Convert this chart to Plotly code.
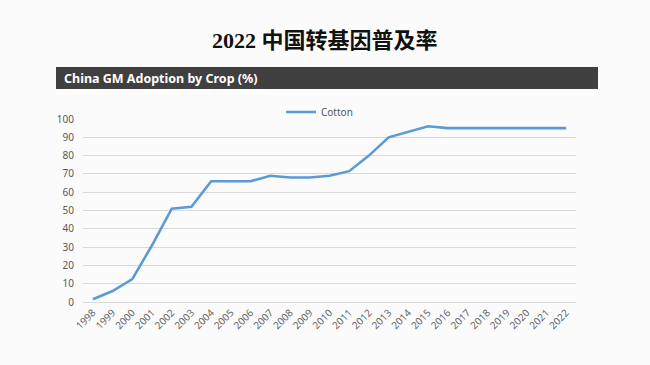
import plotly.graph_objects as go

years = [str(y) for y in range(1998, 2023)]
cotton = [1.5, 6, 12.5, 31, 51, 52, 66, 66, 66, 69, 68, 68, 69, 71.5, 80, 90, 93, 96, 95, 95, 95, 95, 95, 95, 95]
y_ticks = list(range(0, 101, 10))

W, H = 650, 365
L, R, T, B = 83, 576, 119, 302  # plot area in pixels


def px(x):
    return (x - L) / (R - L)


def py(y):
    return (B - y) / (B - T)


fig = go.Figure()
fig.add_trace(go.Scatter(
    x=years, y=cotton, mode="lines", name="Cotton",
    line=dict(color="#5b9bd5", width=2.6),
))

fig.update_layout(
    width=W, height=H,
    margin=dict(l=L, r=W - R, t=T, b=H - B, pad=0),
    paper_bgcolor="#fbfbfb", plot_bgcolor="#fbfbfb",
    font=dict(family="Noto Sans, Open Sans, sans-serif", color="#595959", size=10),
    showlegend=True,
    legend=dict(orientation="h", x=px(281), y=py(112), xanchor="left", yanchor="middle",
                font=dict(size=10, color="#595959"), bgcolor="rgba(0,0,0,0)",
                itemwidth=30),
    xaxis=dict(type="category", range=[-0.5, len(years) - 0.5], tickangle=-45,
               showgrid=False, showline=True, linecolor="#d9d9d9", ticks="",
               tickfont=dict(size=10, color="#666666"), fixedrange=True),
    yaxis=dict(range=[0, 100], tickvals=y_ticks, showgrid=True, gridcolor="#d9d9d9",
               gridwidth=1, zeroline=False, ticks="", ticklabelstandoff=8,
               tickfont=dict(size=10, color="#595959"), fixedrange=True),
    shapes=[dict(type="rect", xref="paper", yref="paper",
                 x0=px(56), x1=px(598), y0=py(89), y1=py(67),
                 fillcolor="#404040", line=dict(width=0), layer="below")],
    annotations=[
        dict(text="<b>2022 中国转基因普及率</b>", xref="paper", yref="paper",
             x=px(325), y=py(40), xanchor="center", yanchor="middle", showarrow=False,
             font=dict(family="Liberation Serif, Noto Sans CJK SC, serif", size=22, color="#111111")),
        dict(text="<b>China GM Adoption by Crop (%)</b>", xref="paper", yref="paper",
             x=px(62), y=py(78), xanchor="left", yanchor="middle", showarrow=False,
             font=dict(family="Noto Sans, sans-serif", size=12.5, color="#ffffff")),
    ],
)

fig.write_html("out.html", config={"displayModeBar": False},
               post_script="document.body.style.margin='0';document.body.style.background='#fbfbfb';")
